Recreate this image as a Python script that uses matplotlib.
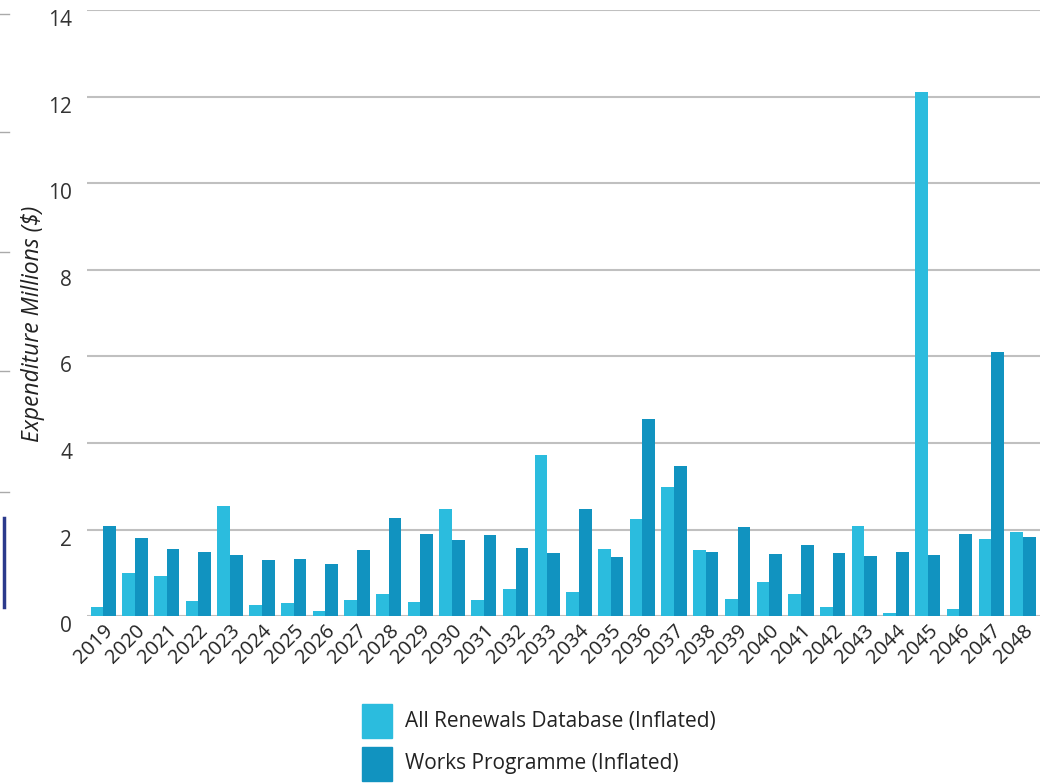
import matplotlib.pyplot as plt
import matplotlib.transforms as mtransforms
from matplotlib.lines import Line2D
from matplotlib.patches import Rectangle
import numpy as np

years = [str(y) for y in range(2019, 2049)]
renewals = [0.22, 1.00, 0.92, 0.35, 2.54, 0.25, 0.31, 0.12, 0.37, 0.52,
            0.32, 2.48, 0.38, 0.62, 3.72, 0.56, 1.55, 2.25, 2.98, 1.54,
            0.40, 0.78, 0.51, 0.21, 2.09, 0.07, 12.10, 0.17, 1.78, 1.95]
works = [2.08, 1.80, 1.55, 1.48, 1.41, 1.31, 1.32, 1.20, 1.52, 2.28,
         1.91, 1.77, 1.88, 1.57, 1.45, 2.47, 1.37, 4.55, 3.47, 1.49,
         2.07, 1.43, 1.65, 1.46, 1.38, 1.49, 1.42, 1.91, 6.10, 1.82]
yticks = [0, 2, 4, 6, 8, 10, 12, 14]

light = '#2bbcde'
dark = '#1193c0'

plt.rcParams['font.family'] = ['Open Sans', 'DejaVu Sans']

fig = plt.figure(figsize=(10.53, 7.84), dpi=100)
ax = fig.add_axes([0.083, 0.214, 0.905, 0.773])

x = np.arange(len(years))
w = 0.4
ax.bar(x - w / 2, renewals, w, color=light, zorder=3)
ax.bar(x + w / 2, works, w, color=dark, zorder=3)

ax.set_xlim(-0.5, len(years) - 0.45)
ax.set_ylim(0, 14)
ax.set_yticks(yticks)
ax.set_yticklabels([str(t) for t in yticks], fontsize=15, color='#333333')
ax.yaxis.grid(True, color='#c0c0c0', linewidth=1.5, zorder=0)
ax.set_axisbelow(True)
ax.tick_params(axis='y', length=0, pad=11)
ax.tick_params(axis='x', length=0, pad=3)
ax.set_xticks(x)
ax.set_xticklabels(years, rotation=45, ha='right', rotation_mode='anchor',
                   fontsize=14.5, color='#222222')
for s in ax.spines.values():
    s.set_visible(False)

# y labels sit a little below their gridlines
shift = mtransforms.ScaledTranslation(0, -0.08, fig.dpi_scale_trans)
for lbl in ax.get_yticklabels():
    lbl.set_transform(lbl.get_transform() + shift)

ax.set_ylabel('Expenditure Millions ($)', fontsize=16.5, style='italic',
              color='#222222')
ax.yaxis.set_label_coords(-0.045, 0.482)

# legend drawn as two swatches stacked under the plot
for i, (lab, col) in enumerate([('All Renewals Database (Inflated)', light),
                                ('Works Programme (Inflated)', dark)]):
    y0 = 1 - (738 + 43 * i) / 784
    fig.patches.append(Rectangle((362 / 1053, y0), 30 / 1053, 34 / 784,
                                 transform=fig.transFigure, color=col))
    fig.text(405 / 1053, y0 + 17 / 784, lab, fontsize=15, va='center',
             color='#222222')

# marks along the left edge
for yy in [14, 132, 252, 371, 492]:
    fig.add_artist(Line2D([0, 9 / 1053], [1 - yy / 784] * 2,
                          color='#aaaaaa', linewidth=1))
fig.add_artist(Line2D([4 / 1053] * 2, [1 - 518 / 784, 1 - 607 / 784],
                      color='#2b3a8c', linewidth=2.5))

fig.savefig('out.png', dpi=100)
